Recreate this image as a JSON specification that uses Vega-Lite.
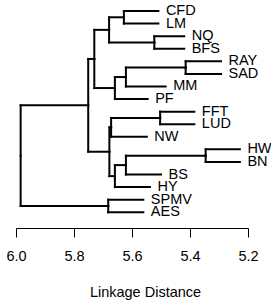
{
  "$schema": "https://vega.github.io/schema/vega-lite/v6.json",
  "width": 232,
  "height": 228,
  "autosize": "none",
  "padding": {"left": 16, "top": 0, "right": 23, "bottom": 77},
  "config": {"view": {"stroke": null}},
  "data": {"values": [
    {"node": "CFD", "leaf": true, "h": 5.509, "pos": 1, "ph": 5.628, "ppos": 1.5},
    {"node": "LM", "leaf": true, "h": 5.509, "pos": 2, "ph": 5.628, "ppos": 1.5},
    {"node": "NQ", "leaf": true, "h": 5.420, "pos": 3, "ph": 5.523, "ppos": 3.5},
    {"node": "BFS", "leaf": true, "h": 5.420, "pos": 4, "ph": 5.523, "ppos": 3.5},
    {"node": "RAY", "leaf": true, "h": 5.293, "pos": 5, "ph": 5.415, "ppos": 5.5},
    {"node": "SAD", "leaf": true, "h": 5.293, "pos": 6, "ph": 5.415, "ppos": 5.5},
    {"node": "MM", "leaf": true, "h": 5.484, "pos": 7, "ph": 5.621, "ppos": 6.25},
    {"node": "PF", "leaf": true, "h": 5.546, "pos": 8, "ph": 5.659, "ppos": 7.125},
    {"node": "FFT", "leaf": true, "h": 5.385, "pos": 9, "ph": 5.503, "ppos": 9.5},
    {"node": "LUD", "leaf": true, "h": 5.385, "pos": 10, "ph": 5.503, "ppos": 9.5},
    {"node": "NW", "leaf": true, "h": 5.549, "pos": 11, "ph": 5.672, "ppos": 10.25},
    {"node": "HW", "leaf": true, "h": 5.228, "pos": 12, "ph": 5.346, "ppos": 12.5},
    {"node": "BN", "leaf": true, "h": 5.228, "pos": 13, "ph": 5.346, "ppos": 12.5},
    {"node": "BS", "leaf": true, "h": 5.5, "pos": 14, "ph": 5.621, "ppos": 13.25},
    {"node": "HY", "leaf": true, "h": 5.538, "pos": 15, "ph": 5.659, "ppos": 14.125},
    {"node": "SPMV", "leaf": true, "h": 5.561, "pos": 16, "ph": 5.682, "ppos": 16.5},
    {"node": "AES", "leaf": true, "h": 5.561, "pos": 17, "ph": 5.682, "ppos": 16.5},
    {"node": "n1", "leaf": false, "h": 5.628, "pos": 1.5, "ph": 5.679, "ppos": 2.5},
    {"node": "n2", "leaf": false, "h": 5.523, "pos": 3.5, "ph": 5.679, "ppos": 2.5},
    {"node": "nA", "leaf": false, "h": 5.679, "pos": 2.5, "ph": 5.730, "ppos": 4.8125},
    {"node": "n3", "leaf": false, "h": 5.415, "pos": 5.5, "ph": 5.621, "ppos": 6.25},
    {"node": "n4", "leaf": false, "h": 5.621, "pos": 6.25, "ph": 5.659, "ppos": 7.125},
    {"node": "nB", "leaf": false, "h": 5.659, "pos": 7.125, "ph": 5.730, "ppos": 4.8125},
    {"node": "nAB", "leaf": false, "h": 5.730, "pos": 4.8125, "ph": 5.751, "ppos": 8.5},
    {"node": "n5", "leaf": false, "h": 5.503, "pos": 9.5, "ph": 5.672, "ppos": 10.25},
    {"node": "nC", "leaf": false, "h": 5.672, "pos": 10.25, "ph": 5.678, "ppos": 12.1875},
    {"node": "n6", "leaf": false, "h": 5.346, "pos": 12.5, "ph": 5.621, "ppos": 13.25},
    {"node": "n7", "leaf": false, "h": 5.621, "pos": 13.25, "ph": 5.659, "ppos": 14.125},
    {"node": "nD", "leaf": false, "h": 5.659, "pos": 14.125, "ph": 5.678, "ppos": 12.1875},
    {"node": "nCD", "leaf": false, "h": 5.678, "pos": 12.1875, "ph": 5.751, "ppos": 8.5},
    {"node": "nTop", "leaf": false, "h": 5.751, "pos": 8.5, "ph": 5.984, "ppos": 12.5},
    {"node": "n8", "leaf": false, "h": 5.682, "pos": 16.5, "ph": 5.984, "ppos": 12.5}
  ]},
  "layer": [
    {
      "mark": {"type": "rule", "strokeWidth": 2, "color": "black", "strokeCap": "square"},
      "encoding": {
        "x": {"field": "h", "type": "quantitative",
              "scale": {"domain": [5.2, 6.0], "reverse": true, "nice": false, "zero": false},
              "axis": {"title": "Linkage Distance", "values": [6.0, 5.8, 5.6, 5.4, 5.2], "format": ".1f",
                       "grid": false, "tickSize": 9, "tickColor": "black", "domainColor": "black",
                       "labelColor": "black", "labelFont": "Liberation Sans", "labelFontSize": 14.5,
                       "labelPadding": 12, "titleFont": "Liberation Sans", "titleFontSize": 14.5,
                       "titleFontWeight": "normal", "titleColor": "black",
                       "titleX": 129, "titleY": 68.5, "titleBaseline": "alphabetic", "titleAlign": "center",
                       "labelFlush": false, "labelOverlap": false}},
        "x2": {"field": "ph"},
        "y": {"field": "pos", "type": "quantitative",
              "scale": {"domain": [0.126, 18.25], "reverse": true, "nice": false, "zero": false},
              "axis": null}
      }
    },
    {
      "mark": {"type": "rule", "strokeWidth": 2, "color": "black", "strokeCap": "square"},
      "encoding": {
        "x": {"field": "ph", "type": "quantitative", "title": "Linkage Distance"},
        "y": {"field": "pos", "type": "quantitative"},
        "y2": {"field": "ppos"}
      }
    },
    {
      "transform": [{"filter": "datum.leaf"}],
      "mark": {"type": "text", "align": "left", "baseline": "middle", "dx": 7.5,
               "font": "Liberation Sans", "fontSize": 14.5, "color": "black"},
      "encoding": {
        "x": {"field": "h", "type": "quantitative", "title": "Linkage Distance"},
        "y": {"field": "pos", "type": "quantitative"},
        "text": {"field": "node"}
      }
    }
  ]
}
